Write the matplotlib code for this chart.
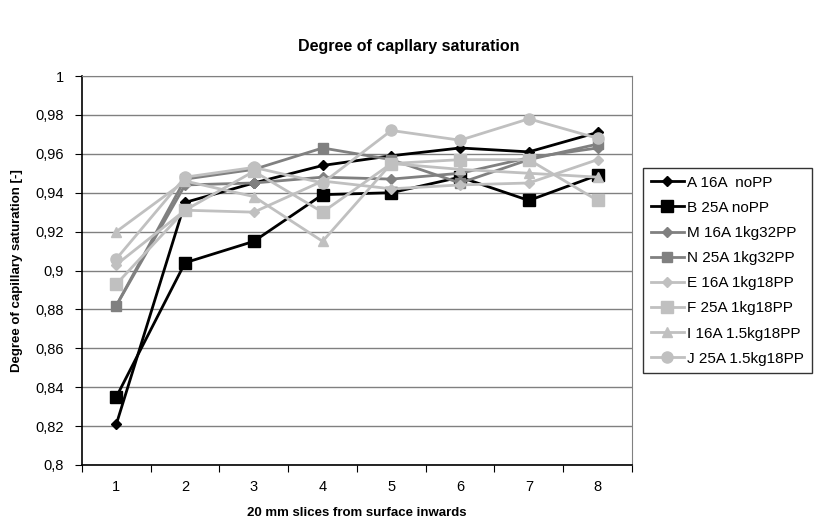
import numpy as np
import matplotlib
matplotlib.use('Agg')
import matplotlib.pyplot as plt
from matplotlib.ticker import FixedLocator, FuncFormatter

plt.rcParams['font.family'] = ['Liberation Sans', 'DejaVu Sans']

# data
slices = [1, 2, 3, 4, 5, 6, 7, 8]
labels = ['A 16A  noPP', 'B 25A noPP', 'M 16A 1kg32PP', 'N 25A 1kg32PP',
          'E 16A 1kg18PP', 'F 25A 1kg18PP', 'I 16A 1.5kg18PP', 'J 25A 1.5kg18PP']
A = [0.821, 0.935, 0.945, 0.954, 0.959, 0.963, 0.961, 0.971]
B = [0.835, 0.904, 0.915, 0.939, 0.940, 0.948, 0.936, 0.949]
M = [0.882, 0.944, 0.945, 0.948, 0.947, 0.950, 0.958, 0.963]
N = [0.882, 0.947, 0.952, 0.963, 0.957, 0.945, 0.957, 0.965]
E = [0.903, 0.931, 0.930, 0.946, 0.942, 0.944, 0.945, 0.957]
F = [0.893, 0.931, 0.951, 0.930, 0.955, 0.957, 0.957, 0.936]
I = [0.920, 0.946, 0.938, 0.915, 0.955, 0.952, 0.950, 0.948]
J = [0.906, 0.948, 0.953, 0.945, 0.972, 0.967, 0.978, 0.968]
series = [A, B, M, N, E, F, I, J]

colors = ['black', 'black', '#808080', '#808080',
          '#c0c0c0', '#c0c0c0', '#c0c0c0', '#c0c0c0']
markers = ['D', 's', 'D', 's', 'D', 's', '^', 'o']
msizes = [5, 9, 5, 7, 5.5, 8, 7, 8]

fig = plt.figure(figsize=(8.18, 5.25), dpi=100)
ax = fig.add_axes([0.1002, 0.1143, 0.6724, 0.7409])

x = np.array(slices)
for ys, lab, c, m, ms in zip(series, labels, colors, markers, msizes):
    ax.plot(x, ys, color=c, lw=2, marker=m, ms=ms, mfc=c, mec=c, label=lab)

ax.set_xlim(0.5, 8.5)
ax.set_ylim(0.8, 1.0)
yt = np.round(np.arange(0.8, 1.0001, 0.02), 2)
ax.set_yticks(yt)
ax.yaxis.set_major_formatter(FuncFormatter(lambda v, p: ('%g' % round(v, 2)).replace('.', ',')))
ax.grid(axis='y', color='#808080', lw=1)
ax.set_axisbelow(True)

# category axis: ticks between slices, labels centered
ax.xaxis.set_major_locator(FixedLocator(np.arange(0.5, 8.6, 1)))
ax.xaxis.set_minor_locator(FixedLocator(x))
ax.xaxis.set_major_formatter(FuncFormatter(lambda v, p: ''))
ax.xaxis.set_minor_formatter(FuncFormatter(lambda v, p: '%d' % v))
ax.tick_params(axis='x', which='major', direction='out', length=5, color='black')
ax.tick_params(axis='x', which='minor', length=0, pad=11, labelsize=10.5)
ax.tick_params(axis='y', direction='out', length=5, pad=8, labelsize=10.5)

for s in ['top', 'right']:
    ax.spines[s].set_color('#808080')
for s in ['left', 'bottom']:
    ax.spines[s].set_color('black')
    ax.spines[s].set_linewidth(1.2)

ax.set_xlabel('20 mm slices from surface inwards', fontsize=9.5, fontweight='bold', labelpad=9)
ax.set_ylabel('Degree of capillary saturation [-]', fontsize=9.5, fontweight='bold', labelpad=9)
fig.text(0.5, 0.902, 'Degree of capllary saturation', ha='center', fontsize=11.5, fontweight='bold')

leg = ax.legend(loc='upper left', bbox_to_anchor=(0.7861, 0.68), bbox_transform=fig.transFigure,
                frameon=True, fancybox=False, fontsize=11, handlelength=2.2,
                labelspacing=0.73, borderpad=0.5, handletextpad=0.2, borderaxespad=0)
leg.get_frame().set_edgecolor('black')
leg.get_frame().set_linewidth(1)

fig.savefig('out.png', dpi=100)
